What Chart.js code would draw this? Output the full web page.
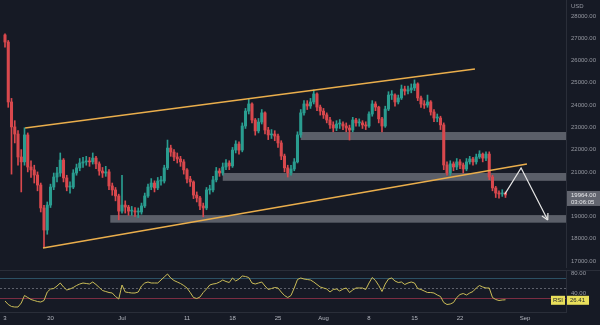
<!DOCTYPE html>
<html>
<head>
<meta charset="utf-8">
<script src="https://cdn.jsdelivr.net/npm/chart.js@4"></script>
<style>
  html, body { margin: 0; padding: 0; background: #161a25; }
  #wrap { position: relative; width: 600px; height: 325px; overflow: hidden; }
  #price { position: absolute; left: 0; top: 0; }
  #rsi { position: absolute; left: 0; top: 268px; }
</style>
</head>
<body>
<div id="wrap">
  <canvas id="price" width="600" height="268"></canvas>
  <canvas id="rsi" width="600" height="57"></canvas>
</div>
<script>
// 12h candles, x in days from Jun 13
const candleStep = 0.5;
const firstOpen = 27150;
const closes = [
  26830,24140,23020,22700,21670,21450,22660,21220,21090,20860,
  20410,19380,18390,19510,20320,20770,20950,21530,20730,20320,
  20320,20950,21180,21400,21450,21490,21450,21620,21360,21040,
  20950,21000,20370,20190,19920,19240,19510,19420,19240,19240,
  19200,19200,19470,19920,20320,20500,20280,20590,20590,21180,
  22070,21890,21670,21580,21450,21090,20680,20550,19960,19830,
  19470,19380,20190,20190,20640,21040,20950,21220,21400,21270,
  21980,22250,21980,23060,23730,24050,23330,22840,23240,23650,
  22880,22660,22700,22610,22300,21710,21180,20950,21130,21450,
  22660,23650,24050,23960,24140,24500,23910,23730,23560,23330,
  23110,22970,23150,23150,23060,22970,22880,23330,23200,23200,
  23110,23060,23600,24050,23910,23380,23060,23820,24450,24450,
  24140,24320,24720,24630,24680,24770,24950,24320,24050,24000,
  24140,23690,23420,23420,23110,21310,20950,21360,21220,21450,
  21310,21130,21450,21580,21450,21670,21800,21620,21800,20770,
  20280,20050,20010,20050,19964
];
const highs = [
  27200,26900,24300,23300,22850,22000,22980,22750,21500,21300,
  21000,20500,19500,19650,20450,20950,21200,21850,21600,20850,
  20550,21100,21350,21600,21650,21700,21650,21850,21700,21450,
  21200,21250,21100,20500,20300,20000,20850,19700,19500,19450,
  19400,19380,19600,20050,20450,20700,20600,20750,20800,21300,
  22430,22200,22000,21850,21700,21550,21150,20800,20600,20100,
  19900,19600,20300,20400,20800,21200,21150,21400,21550,21500,
  22100,22400,22350,23200,23850,24270,24100,23400,23400,23800,
  23700,23000,22900,22850,22700,22400,21800,21300,21300,21600,
  22800,23800,24200,24200,24300,24680,24550,24000,23850,23650,
  23450,23250,23300,23350,23250,23200,23100,23450,23400,23380,
  23300,23250,23700,24200,24150,23950,23450,23950,24600,24650,
  24500,24450,24900,24850,24850,24950,25130,25000,24400,24200,
  24450,24200,23800,23600,23500,23200,21450,21500,21450,21600,
  21550,21400,21600,21700,21650,21800,21950,21850,21900,21900,
  20850,20350,20150,20200,20100
];
const lows = [
  26600,23900,20900,22300,21300,20100,21300,21000,20750,20500,
  20150,19200,17600,18200,19400,20200,20550,20800,20550,20150,
  20050,20250,20850,21050,21200,21300,21250,21350,21150,20850,
  20750,20800,20200,19950,19700,18850,19150,19150,19050,19050,
  19000,18950,19100,19400,19850,20200,20100,20200,20400,20500,
  21100,21700,21500,21400,21250,20900,20500,20350,19800,19650,
  19300,18980,19300,20000,20100,20550,20800,20850,21100,21100,
  21200,21850,21800,21900,22950,23600,23200,22650,22750,23150,
  22700,22450,22500,22400,22100,21550,21000,20770,20850,21050,
  21400,22550,23550,23800,23850,24050,23750,23550,23400,23200,
  22950,22800,22850,22950,22900,22800,22430,22800,23050,23050,
  22950,22900,23000,23500,23750,23200,22790,23000,23750,24250,
  23950,24050,24250,24450,24500,24550,24650,24200,23900,23850,
  23900,23550,23250,23250,22900,21100,20850,20850,21050,21100,
  21150,20950,21050,21350,21300,21350,21600,21450,21500,20650,
  20150,19850,19820,19900,19850
];
const rsiValues = [
  24,17,13,12,12,20,35,31,27,25,
  23,22,25,42,48,49,54,60,52,46,
  48,51,55,58,60,59,58,62,57,51,
  45,43,41,40,33,28,56,42,41,40,
  40,42,54,60,62,60,60,60,66,72,
  78,70,65,62,59,55,50,41,31,29,
  32,41,48,56,58,59,62,66,63,61,
  70,64,68,74,73,71,60,58,60,62,
  54,47,49,51,50,42,35,31,35,50,
  67,70,68,67,66,62,57,52,50,48,
  42,47,48,44,48,50,41,46,50,50,
  50,47,60,71,65,55,43,58,68,70,
  64,61,62,57,60,62,60,49,47,44,
  41,41,40,36,33,21,17,18,21,31,
  37,39,36,40,43,50,55,52,50,50,
  31,27,25,26,26.41
];

const priceTicks = [17000,18000,19000,20000,21000,22000,23000,24000,25000,26000,27000,28000];
const rsiTicks = [40, 80];
const rsiLevels = [70, 50, 30];
const dateTicks = [0, 7, 18, 28, 35, 42, 49, 56, 63, 70, 80];
const dateLabels = ['3', '20', 'Jul', '11', '18', '25', 'Aug', '8', '15', '22', 'Sep'];

// drawings
const upperChannelDays = [3.1, 72.3];
const upperChannelPrices = [22970, 25620];
const lowerChannelDays = [5.85, 80.3];
const lowerChannelPrices = [17580, 21355];
const zoneStartDays = [45.5, 33.5, 16.2];
const zoneLows = [22430, 20600, 18720];
const zoneHighs = [22790, 20950, 19060];
const arrowDays = [76.9, 79.4, 83.5];
const arrowPrices = [20000, 21180, 18840];
const countdown = '03:06:05';

const xMin = -0.77, xMax = 86.31;
const AXIS_LINE = '#2a2e39';
const AXIS_TEXT = '#9598a1';
const FONT = 'Liberation Sans';

Chart.defaults.font.family = FONT;
Chart.defaults.font.size = 6;
Chart.defaults.color = AXIS_TEXT;

const days = closes.map((c, i) => i * candleStep);
const opens = closes.map((c, i) => i === 0 ? firstOpen : closes[i - 1]);
const candleColors = closes.map((c, i) => c >= opens[i] ? '#2a9d90' : '#d9484d');
const lastClose = closes[closes.length - 1];
const lastRsi = rsiValues[rsiValues.length - 1];

const pts = (xs, ys) => xs.map((x, i) => ({ x: x, y: ys[i] }));

function fixRightAxis(scale) {
  scale.width = 34;
  scale.paddingTop = 0;
  scale.paddingBottom = 0;
}

const zonesPlugin = {
  id: 'zones',
  beforeDatasetsDraw(chart) {
    const { ctx, chartArea, scales: { x, y } } = chart;
    ctx.save();
    ctx.fillStyle = 'rgba(150,153,163,0.55)';
    zoneStartDays.forEach((d, i) => {
      const x0 = x.getPixelForValue(d);
      const y0 = y.getPixelForValue(zoneHighs[i]);
      const y1 = y.getPixelForValue(zoneLows[i]);
      ctx.fillRect(x0, y0, chartArea.right - x0, y1 - y0);
    });
    ctx.restore();
  }
};

const priceLabels = {
  id: 'priceLabels',
  afterDraw(chart) {
    const { ctx, chartArea, scales: { y } } = chart;
    ctx.save();
    // arrow head on the projected path
    const arrow = chart.getDatasetMeta(4).data;
    const a = arrow[arrow.length - 2], b = arrow[arrow.length - 1];
    const ang = Math.atan2(b.y - a.y, b.x - a.x);
    ctx.strokeStyle = '#e6e6e6';
    ctx.lineWidth = 1.2;
    ctx.beginPath();
    [-0.5, 0.5].forEach(off => {
      ctx.moveTo(b.x, b.y);
      ctx.lineTo(b.x - 7 * Math.cos(ang + off), b.y - 7 * Math.sin(ang + off));
    });
    ctx.stroke();

    ctx.font = '6px ' + FONT;
    ctx.fillStyle = AXIS_TEXT;
    ctx.textBaseline = 'middle';
    ctx.textAlign = 'left';
    ctx.fillText('USD', 571, 6);

    // last price tag
    const py = y.getPixelForValue(lastClose);
    ctx.fillStyle = '#62656f';
    ctx.fillRect(chartArea.right + 1, py - 4, 33, 15);
    ctx.fillStyle = '#e8e9ec';
    ctx.fillText(lastClose.toFixed(2), 571, py);
    ctx.fillText(countdown, 571, py + 7.5);
    ctx.restore();
  }
};

new Chart(document.getElementById('price'), {
  type: 'bar',
  data: {
    datasets: [
      { type: 'line', data: pts(upperChannelDays, upperChannelPrices), borderColor: '#eaae4c', borderWidth: 1.5, pointRadius: 0, order: 0 },
      { type: 'line', data: pts(lowerChannelDays, lowerChannelPrices), borderColor: '#eaae4c', borderWidth: 1.5, pointRadius: 0, order: 0 },
      { data: days.map((d, i) => ({ x: d, y: [opens[i], closes[i]] })), backgroundColor: candleColors, barThickness: 2.4, minBarLength: 1, grouped: false, order: 1 },
      { data: days.map((d, i) => ({ x: d, y: [lows[i], highs[i]] })), backgroundColor: candleColors, barThickness: 1, grouped: false, order: 2 },
      { type: 'line', data: pts(arrowDays, arrowPrices), borderColor: '#e6e6e6', borderWidth: 1.2, pointRadius: 0, order: 0 }
    ]
  },
  options: {
    responsive: false,
    animation: false,
    events: [],
    layout: { padding: 0 },
    plugins: { legend: { display: false }, tooltip: { enabled: false } },
    scales: {
      x: { type: 'linear', min: xMin, max: xMax, offset: false, display: false },
      y: {
        position: 'right', min: 16685, max: 28718,
        grid: { display: false, drawTicks: false },
        border: { display: true, color: AXIS_LINE },
        afterBuildTicks: s => { s.ticks = priceTicks.map(v => ({ value: v })); },
        afterFit: fixRightAxis,
        ticks: {
          padding: 5, color: AXIS_TEXT,
          callback: v => Math.abs(v - lastClose) < 600 ? '' : v.toFixed(2)
        }
      }
    }
  },
  plugins: [zonesPlugin, priceLabels]
});

const rsiDecor = {
  id: 'rsiDecor',
  beforeDatasetsDraw(chart) {
    const { ctx, chartArea, scales: { y } } = chart;
    const styles = { 70: ['#2c5064', []], 50: ['#5d606b', [2, 2]], 30: ['#7b2d42', []] };
    ctx.save();
    ctx.lineWidth = 1;
    rsiLevels.forEach(l => {
      const yy = Math.round(y.getPixelForValue(l)) + 0.5;
      ctx.strokeStyle = styles[l][0];
      ctx.setLineDash(styles[l][1]);
      ctx.beginPath();
      ctx.moveTo(chartArea.left, yy);
      ctx.lineTo(chartArea.right, yy);
      ctx.stroke();
    });
    ctx.setLineDash([]);
    ctx.strokeStyle = AXIS_LINE;
    ctx.beginPath();
    ctx.moveTo(0, chartArea.top + 0.5);
    ctx.lineTo(600, chartArea.top + 0.5);
    ctx.stroke();
    ctx.restore();
  },
  afterDraw(chart) {
    const { ctx, chartArea, scales: { y } } = chart;
    const ry = y.getPixelForValue(lastRsi);
    ctx.save();
    ctx.fillStyle = '#e9df5b';
    ctx.fillRect(551, ry - 4, 14, 9);
    ctx.fillRect(chartArea.right + 1, ry - 4, 22, 9);
    ctx.fillStyle = '#1e222d';
    ctx.font = '6px ' + FONT;
    ctx.textBaseline = 'middle';
    ctx.textAlign = 'center';
    ctx.fillText('RSI', 558, ry + 0.5);
    ctx.textAlign = 'left';
    ctx.fillText(lastRsi.toFixed(2), 570, ry + 0.5);
    ctx.restore();
  }
};

new Chart(document.getElementById('rsi'), {
  type: 'line',
  data: {
    datasets: [{
      data: days.map((d, i) => ({ x: d, y: rsiValues[i] })),
      borderColor: '#cbbd58', borderWidth: 1, pointRadius: 0, tension: 0
    }]
  },
  options: {
    responsive: false,
    animation: false,
    events: [],
    layout: { padding: { top: 2 } },
    plugins: { legend: { display: false }, tooltip: { enabled: false } },
    scales: {
      x: {
        type: 'linear', min: xMin, max: xMax, offset: false,
        grid: { display: false, drawTicks: false },
        border: { display: true, color: AXIS_LINE },
        afterBuildTicks: s => { s.ticks = dateTicks.map(v => ({ value: v })); },
        afterFit: s => { s.height = 13; s.paddingLeft = 0; s.paddingRight = 0; },
        ticks: {
          padding: 3, color: '#b2b5be', autoSkip: false, maxRotation: 0,
          callback: v => { const k = dateTicks.indexOf(v); return k >= 0 ? dateLabels[k] : ''; }
        }
      },
      y: {
        position: 'right', min: 2, max: 86,
        grid: { display: false, drawTicks: false },
        border: { display: true, color: AXIS_LINE },
        afterBuildTicks: s => { s.ticks = rsiTicks.map(v => ({ value: v })); },
        afterFit: fixRightAxis,
        ticks: { padding: 5, color: AXIS_TEXT, callback: v => v.toFixed(2) }
      }
    }
  },
  plugins: [rsiDecor]
});
</script>
</body>
</html>
